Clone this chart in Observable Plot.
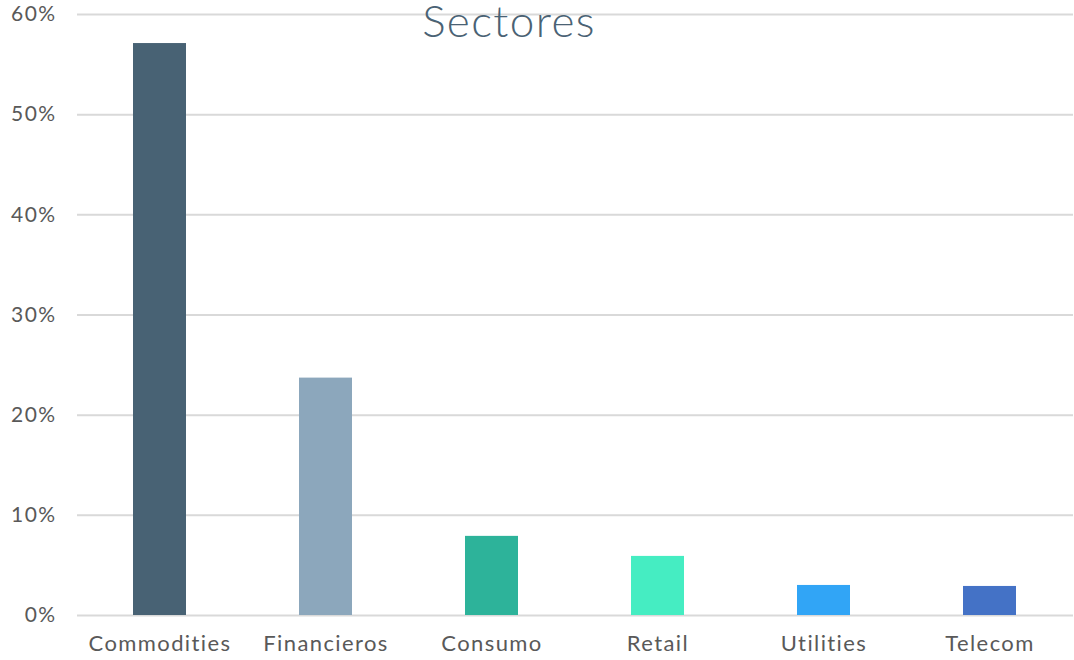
<!DOCTYPE html>
<html>
<head>
<meta charset="utf-8">
<script src="https://cdn.jsdelivr.net/npm/d3@7"></script>
<script src="https://cdn.jsdelivr.net/npm/@observablehq/plot@0.6"></script>
<style>
  html, body { margin: 0; padding: 0; background: #fff; }
  #wrap { position: relative; width: 1074px; height: 660px; }
  #chart svg text { letter-spacing: 1.4px; }
  #title {
    position: absolute; top: 0; left: 0; width: 1018px; height: 40px;
    text-align: center; font-family: Lato, 'Open Sans', sans-serif;
    font-size: 44px; font-weight: 300; line-height: 40px; letter-spacing: 1.4px;
    color: #4a6274; pointer-events: none;
  }
</style>
</head>
<body>
<div id="wrap">
  <div id="chart"></div>
  <div id="title"></div>
</div>
<script>
const sectors = ["Commodities", "Financieros", "Consumo", "Retail", "Utilities", "Telecom"];
const shares = [57.1, 23.7, 7.9, 5.9, 3.0, 2.9];
const colors = ["#486274", "#8ca7bc", "#2db39a", "#45edc2", "#31a5f6", "#4472c6"];
const yTicks = [0, 10, 20, 30, 40, 50, 60];
const title = "Sectores";

const data = sectors.map((s, i) => ({sector: s, value: shares[i]}));
const font = "Lato, 'Open Sans', sans-serif";

const chart = Plot.plot({
  width: 1074,
  height: 660,
  marginLeft: 77,
  marginRight: 1,
  marginTop: 14,
  marginBottom: 45,
  style: {fontFamily: font, background: "#fff"},
  x: {domain: sectors, paddingInner: 0.68, paddingOuter: 0.34, label: null},
  y: {domain: [0, 60], label: null},
  color: {domain: sectors, range: colors},
  marks: [
    Plot.gridY(yTicks, {stroke: "#d9d9d9", strokeWidth: 2, strokeOpacity: 1}),
    Plot.barY(data, {x: "sector", y: "value", fill: "sector"}),
    Plot.axisY(yTicks, {tickSize: 0, tickPadding: 21, tickFormat: d => d + "%", fontSize: 21, fill: "#595959", label: null}),
    Plot.axisX({tickSize: 0, tickPadding: 20, fontSize: 22, fill: "#595959", label: null})
  ]
});
document.getElementById("chart").appendChild(chart);
document.getElementById("title").textContent = title;
</script>
</body>
</html>
